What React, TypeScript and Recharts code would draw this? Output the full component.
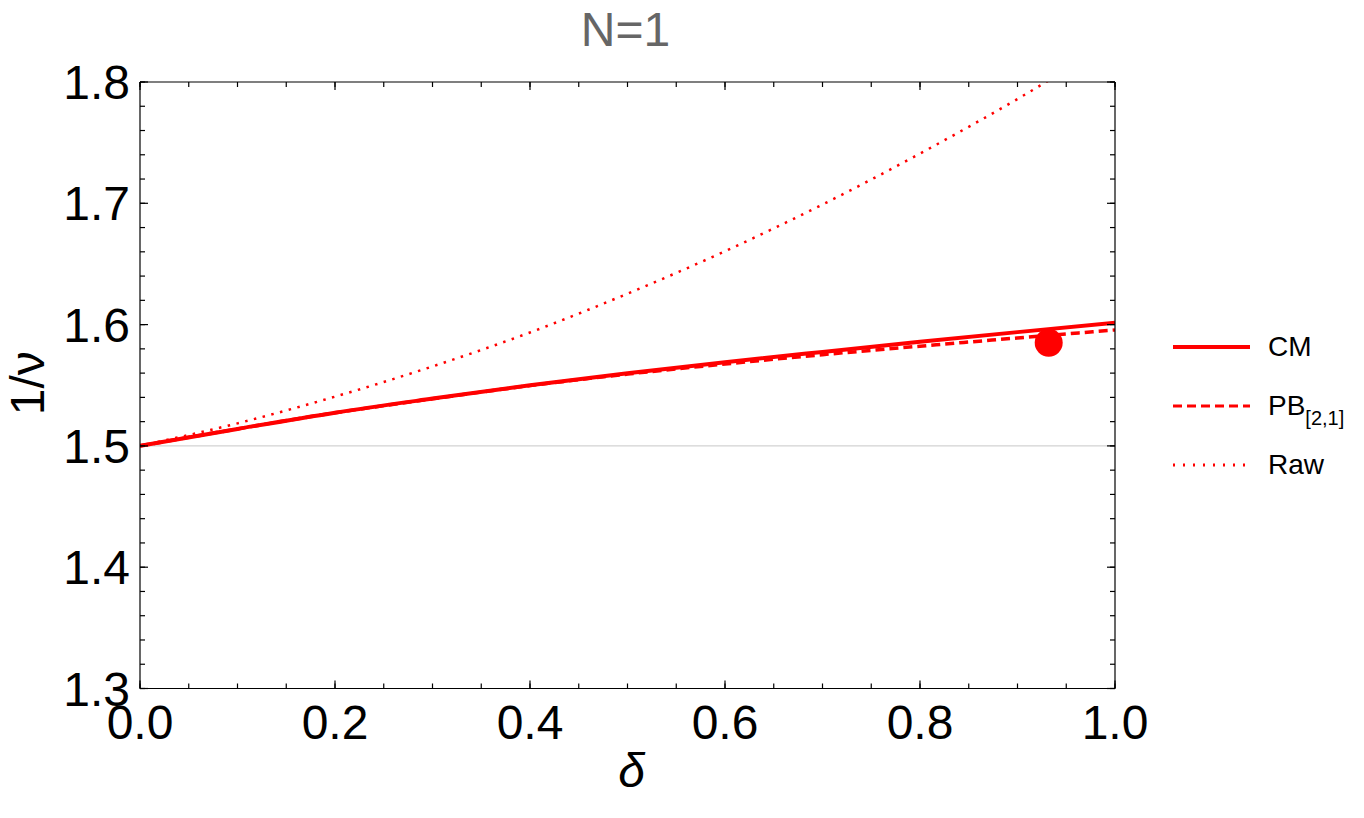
import React from 'react'
import {
  ComposedChart,
  Line,
  Scatter,
  XAxis,
  YAxis,
  ReferenceLine,
  Legend,
} from 'recharts'

// delta grid shared by the three curves
const deltaGrid = [0, 0.1, 0.2, 0.3, 0.4, 0.5, 0.6, 0.7, 0.8, 0.9, 1.0]
const cmValues = [1.5, 1.514, 1.5274, 1.539, 1.55, 1.5599, 1.569, 1.5775, 1.5858, 1.5938, 1.6015]
const pbValues = [1.5, 1.514, 1.5273, 1.5388, 1.5497, 1.5592, 1.5675, 1.5752, 1.5822, 1.589, 1.5956]
const rawValues = [1.5, 1.5186, 1.5406, 1.5655, 1.5935, 1.6255, 1.6605, 1.699, 1.741, 1.786, 1.835]

// single reference point
const pointData = [{ delta: 0.932, value: 1.585 }]

const xMajorTicks = [0, 0.2, 0.4, 0.6, 0.8, 1.0]
const xMinorTicks = [0, 0.05, 0.1, 0.15, 0.2, 0.25, 0.3, 0.35, 0.4, 0.45, 0.5, 0.55, 0.6, 0.65, 0.7, 0.75, 0.8, 0.85, 0.9, 0.95, 1.0]
const yMajorTicks = [1.3, 1.4, 1.5, 1.6, 1.7, 1.8]
const yMinorTicks = [1.3, 1.32, 1.34, 1.36, 1.38, 1.4, 1.42, 1.44, 1.46, 1.48, 1.5, 1.52, 1.54, 1.56, 1.58, 1.6, 1.62, 1.64, 1.66, 1.68, 1.7, 1.72, 1.74, 1.76, 1.78, 1.8]

const series = [
  { key: 'cm', name: 'CM', dash: undefined as string | undefined, width: 4 },
  { key: 'pb', name: 'PB', dash: '9 5', width: 3.5 },
  { key: 'raw', name: 'Raw', dash: '2.5 6.5', width: 2.5 },
]

const data = deltaGrid.map((d, i) => ({
  delta: d,
  cm: cmValues[i],
  pb: pbValues[i],
  raw: rawValues[i],
}))

const FONT = '"Liberation Sans", Arial, Helvetica, sans-serif'
const RED = '#ff0000'

// tick label that draws nothing, so only the inward tick line shows
const NoLabel = () => <g />
// mirror axes take (almost) no room so they all sit on the frame
const THIN = 0.01

function LegendBox() {
  return (
    <div style={{ fontFamily: FONT, fontSize: 28, color: '#000' }}>
      {series.map((s) => (
        <div key={s.key} style={{ display: 'flex', alignItems: 'center', height: 59 }}>
          <svg width={77} height={10} style={{ marginRight: 18 }}>
            <line
              x1={0}
              y1={5}
              x2={77}
              y2={5}
              stroke={RED}
              strokeWidth={s.key === 'cm' ? 4 : 3}
              strokeDasharray={s.key === 'pb' ? '9 5' : s.key === 'raw' ? '2 8' : undefined}
            />
          </svg>
          <span>
            {s.name}
            {s.key === 'pb' && (
              <span style={{ fontSize: 20, position: 'relative', top: 10 }}>[2,1]</span>
            )}
          </span>
        </div>
      ))}
    </div>
  )
}

export default function App() {
  const tickStyle = { fontSize: 48, fill: '#000', fontFamily: FONT }
  const fmt = (v: number) => v.toFixed(1)
  const tl = { stroke: '#000', strokeWidth: 1.2 }

  return (
    <div style={{ position: 'absolute', left: 0, top: 0, background: '#fff' }}>
      <ComposedChart
        width={1364}
        height={818}
        data={data}
        margin={{ top: 82, right: 249, left: 0, bottom: 0 }}
      >
        {/* labelled axes */}
        <XAxis
          xAxisId="b"
          dataKey="delta"
          type="number"
          domain={[0, 1]}
          ticks={xMajorTicks}
          tickFormatter={fmt}
          allowDataOverflow
          height={129.5}
          tickLine={false}
          tickSize={0}
          tickMargin={16}
          axisLine={{ stroke: '#000', strokeWidth: 1.2 }}
          tick={tickStyle}
          interval={0}
          label={{
            content: (p: any) => (
              <text
                x={p.viewBox.x + p.viewBox.width / 2 + 4}
                y={p.viewBox.y + 82}
                textAnchor="middle"
                dominantBaseline="central"
                fontSize={48}
                fontStyle="italic"
                fontFamily={FONT}
                fill="#000"
              >
                δ
              </text>
            ),
          }}
        />
        <YAxis
          yAxisId="l"
          type="number"
          domain={[1.3, 1.8]}
          ticks={yMajorTicks}
          tickFormatter={fmt}
          allowDataOverflow
          width={140}
          tickLine={false}
          tickSize={0}
          tickMargin={10}
          axisLine={{ stroke: '#000', strokeWidth: 1.2 }}
          tick={tickStyle}
          interval={0}
          label={{
            content: (p: any) => (
              <text
                x={p.viewBox.x + 27}
                y={p.viewBox.y + p.viewBox.height / 2 - 2}
                textAnchor="middle"
                dominantBaseline="central"
                fontSize={48}
                fontFamily={FONT}
                fill="#000"
                transform={`rotate(-90, ${p.viewBox.x + 27}, ${p.viewBox.y + p.viewBox.height / 2 - 2})`}
              >
                1/ν
              </text>
            ),
          }}
        />

        {/* inward ticks on all four sides */}
        <XAxis xAxisId="bMaj" dataKey="delta" type="number" orientation="bottom" mirror height={THIN} allowDataOverflow domain={[0, 1]} ticks={xMajorTicks} interval={0} tick={NoLabel} axisLine={false} tickSize={8} tickLine={tl} />
        <XAxis xAxisId="bMin" dataKey="delta" type="number" orientation="bottom" mirror height={THIN} allowDataOverflow domain={[0, 1]} ticks={xMinorTicks} interval={0} tick={NoLabel} axisLine={false} tickSize={5} tickLine={tl} />
        <XAxis xAxisId="tMaj" dataKey="delta" type="number" orientation="top" mirror height={THIN} allowDataOverflow domain={[0, 1]} ticks={xMajorTicks} interval={0} tick={NoLabel} axisLine={{ stroke: '#000', strokeWidth: 1.2 }} tickSize={8} tickLine={tl}
          label={{
            content: (p: any) => (
              <text
                x={p.viewBox.x + p.viewBox.width / 2 - 2}
                y={p.viewBox.y - 53}
                textAnchor="middle"
                dominantBaseline="central"
                fontSize={48}
                fontFamily={FONT}
                fill="#666666"
              >
                N=1
              </text>
            ),
          }}
        />
        <XAxis xAxisId="tMin" dataKey="delta" type="number" orientation="top" mirror height={THIN} allowDataOverflow domain={[0, 1]} ticks={xMinorTicks} interval={0} tick={NoLabel} axisLine={false} tickSize={5} tickLine={tl} />
        <YAxis yAxisId="lMaj" type="number" orientation="left" mirror width={THIN} allowDataOverflow domain={[1.3, 1.8]} ticks={yMajorTicks} interval={0} tick={NoLabel} axisLine={false} tickSize={8} tickLine={tl} />
        <YAxis yAxisId="lMin" type="number" orientation="left" mirror width={THIN} allowDataOverflow domain={[1.3, 1.8]} ticks={yMinorTicks} interval={0} tick={NoLabel} axisLine={false} tickSize={5} tickLine={tl} />
        <YAxis yAxisId="rMaj" type="number" orientation="right" mirror width={THIN} allowDataOverflow domain={[1.3, 1.8]} ticks={yMajorTicks} interval={0} tick={NoLabel} axisLine={{ stroke: '#000', strokeWidth: 1.2 }} tickSize={8} tickLine={tl} />
        <YAxis yAxisId="rMin" type="number" orientation="right" mirror width={THIN} allowDataOverflow domain={[1.3, 1.8]} ticks={yMinorTicks} interval={0} tick={NoLabel} axisLine={false} tickSize={5} tickLine={tl} />

        <ReferenceLine xAxisId="b" yAxisId="l" y={1.5} stroke="#c8c8c8" strokeWidth={1} />

        {series.map((s) => (
          <Line
            key={s.key}
            xAxisId="b"
            yAxisId="l"
            dataKey={s.key}
            name={s.name}
            type="monotone"
            stroke={RED}
            strokeWidth={s.width}
            strokeDasharray={s.dash}
            dot={false}
            activeDot={false}
            isAnimationActive={false}
          />
        ))}

        <Scatter
          xAxisId="b"
          yAxisId="l"
          data={pointData}
          dataKey="value"
          legendType="none"
          isAnimationActive={false}
          shape={(p: any) => <circle cx={p.cx} cy={p.cy} r={14} fill={RED} />}
        />

        <Legend
          layout="vertical"
          align="center"
          verticalAlign="middle"
          wrapperStyle={{ left: 1173, top: 317, width: 190 }}
          content={() => <LegendBox />}
        />
      </ComposedChart>
    </div>
  )
}
